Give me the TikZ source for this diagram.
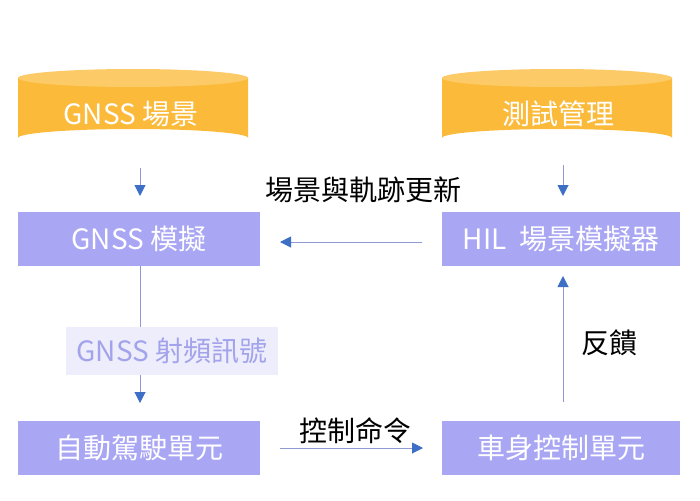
\documentclass[tikz,border=0pt]{standalone}
\usepackage{fontspec}
\setmainfont{Noto Sans CJK TC}
\usetikzlibrary{arrows.meta}
\definecolor{cylbody}{HTML}{FBBA3A}
\definecolor{cyltop}{HTML}{FCCB68}
\definecolor{boxfill}{HTML}{A9A6F4}
\definecolor{linec}{HTML}{8E9BD2}
\definecolor{tipc}{HTML}{3D6FC4}
\definecolor{sigbg}{HTML}{EDEDFB}
\definecolor{sigtext}{HTML}{A3A3EC}
\begin{document}
\begin{tikzpicture}[x=1pt,y=-1pt,
  txt/.style={font=\fontsize{28}{32}\selectfont},
  boxnode/.style={fill=boxfill,minimum width=#1,minimum height=54pt,inner sep=0pt,text=white,txt},
  lbl/.style={text=black,txt,inner sep=0pt},
  conn/.style={draw=linec,line width=1pt,-{Triangle[length=11pt,width=11pt,fill=tipc,color=tipc]}},
  plain/.style={draw=linec,line width=1pt}]
\useasboundingbox (0,0) rectangle (700,500);
% cylinders
\foreach \cx in {133,557}{
  \fill[cylbody] (\cx-115,78) -- (\cx-115,138) arc[start angle=180,end angle=360,x radius=115,y radius=9] -- (\cx+115,78) -- cycle;
  \fill[cyltop] (\cx,78) ellipse[x radius=115,y radius=9];
}
\node[text=white,txt,inner sep=0pt] (cylA) at (131,114) {GNSS 場景};
\node[text=white,txt,inner sep=0pt] (cylB) at (558,114) {測試管理};
\coordinate (cylAb) at (140,168);
\coordinate (cylBb) at (563,165);
% boxes
\node[boxnode=242pt] (gnss) at (139,239) {GNSS 模擬};
\node[boxnode=238pt] (hil) at (561,239) {HIL\ \ 場景模擬器};
\node[boxnode=242pt] (ads) at (139,448) {自動駕駛單元};
\node[boxnode=238pt] (bcu) at (561,448) {車身控制單元};
% signal label
\node[fill=sigbg,text=sigtext,minimum width=212pt,minimum height=48pt,inner sep=0pt,txt] (sig) at (172,351) {GNSS 射頻訊號};
% connectors
\draw[conn] (cylAb) -- (140,196);
\draw[conn] (cylBb) -- (563,196);
\coordinate (hilL) at (422,242);
\draw[conn] (hilL) -- (280,242);
\node[lbl] (upd) at (363,190) {場景與軌跡更新};
\draw[plain] (140,266) -- (140,327);
\draw[conn] (140,375) -- (140,403);
\coordinate (adsR) at (280,448);
\draw[conn] (adsR) -- (423,448);
\node[lbl] (cmd) at (355,431) {控制命令};
\coordinate (bcuT) at (563,402);
\draw[conn] (bcuT) -- (563,276);
\node[lbl] (fb) at (609,343) {反饋};
\end{tikzpicture}
\end{document}
